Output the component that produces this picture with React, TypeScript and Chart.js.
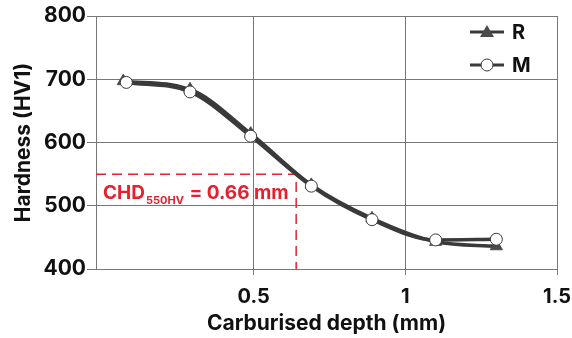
import React, { useEffect, useRef } from "react";
import { Chart, registerables } from "chart.js";

Chart.register(...registerables);

const depthR = [0.07, 0.29, 0.49, 0.69, 0.89, 1.1, 1.3];
const hardR = [697, 684, 614, 533, 480, 443, 436];
const depthM = [0.08, 0.29, 0.49, 0.69, 0.89, 1.1, 1.3];
const hardM = [695, 680, 610, 531, 478, 446, 447];
const chdDepth = 0.64;
const chdHard = 550;
const xTicks = [0.5, 1, 1.5];
const yTicks = [400, 500, 600, 700, 800];

const FONT = "Inter, 'Noto Sans', Arial, sans-serif";
const LINE = "#3a3a3a";
const RED = "#e8202e";

export default function App() {
  const ref = useRef<HTMLCanvasElement | null>(null);
  useEffect(() => {
    document.body.style.margin = "0";
    const ctx = ref.current!.getContext("2d")!;
    const overlay = {
      id: "overlay",
      afterDatasetsDraw(chart: any) {
        const c = chart.ctx;
        const y = chart.scales.y;
        c.save();
        c.fillStyle = RED;
        c.textBaseline = "alphabetic";
        const bx = chart.chartArea.left + 7;
        const by = y.getPixelForValue(chdHard) + 25;
        c.font = `bold 19px ${FONT}`;
        c.fillText("CHD", bx, by);
        const w = c.measureText("CHD").width;
        c.font = `bold 11px ${FONT}`;
        c.fillText("550HV", bx + w + 1, by + 5);
        const w2 = c.measureText("550HV").width;
        c.font = `bold 19px ${FONT}`;
        c.fillText(" = 0.66 mm", bx + w + w2 + 2, by);
        const items = [
          { label: "R", y: 32, tri: true },
          { label: "M", y: 65, tri: false },
        ];
        items.forEach((it) => {
          c.strokeStyle = LINE;
          c.lineWidth = 3;
          c.beginPath();
          c.moveTo(470, it.y);
          c.lineTo(504, it.y);
          c.stroke();
          if (it.tri) {
            c.fillStyle = "#4a4a4a";
            c.beginPath();
            c.moveTo(487, it.y - 7);
            c.lineTo(494, it.y + 5);
            c.lineTo(480, it.y + 5);
            c.closePath();
            c.fill();
          } else {
            c.fillStyle = "#fff";
            c.lineWidth = 1;
            c.beginPath();
            c.arc(487, it.y, 6, 0, Math.PI * 2);
            c.fill();
            c.stroke();
          }
          c.fillStyle = "#111";
          c.font = `bold 20px ${FONT}`;
          c.textBaseline = "middle";
          c.fillText(it.label, 512, it.y + 1);
        });
        c.restore();
      },
    };
    const chart = new Chart(ctx, {
      type: "line",
      data: {
        datasets: [
          {
            label: "M",
            data: depthM.map((d, i) => ({ x: d, y: hardM[i] })),
            borderColor: LINE,
            borderWidth: 3.5,
            cubicInterpolationMode: "monotone",
            pointStyle: "circle",
            pointRadius: 6,
            pointBackgroundColor: "#fff",
            pointBorderColor: LINE,
            pointBorderWidth: 1,
            order: 0,
          },
          {
            label: "R",
            data: depthR.map((d, i) => ({ x: d, y: hardR[i] })),
            borderColor: LINE,
            borderWidth: 3.5,
            cubicInterpolationMode: "monotone",
            pointStyle: "triangle",
            pointRadius: 7,
            pointBackgroundColor: "#4a4a4a",
            pointBorderColor: "#4a4a4a",
            pointBorderWidth: 1,
            order: 1,
          },
          {
            label: "CHD",
            data: [
              { x: -0.02, y: chdHard },
              { x: chdDepth, y: chdHard },
              { x: chdDepth, y: 400 },
            ],
            borderColor: RED,
            borderWidth: 1.5,
            borderDash: [10, 6],
            pointRadius: 0,
            tension: 0,
            order: 2,
          },
        ],
      },
      options: {
        animation: false,
        responsive: false,
        layout: { padding: { left: 0, top: 16, right: 15, bottom: 0 } },
        plugins: { legend: { display: false }, tooltip: { enabled: false } },
        scales: {
          x: {
            type: "linear",
            min: -0.02,
            max: 1.5,
            afterBuildTicks: (s: any) => {
              s.ticks = xTicks.map((v) => ({ value: v }));
            },
            afterFit: (s: any) => {
              s.height = 338 - 269;
              s.paddingLeft = 0;
              s.paddingRight = 0;
            },
            grid: { color: "#777", lineWidth: 1, drawTicks: true, tickLength: 6, tickColor: "#777" },
            border: { color: "#777", width: 1 },
            ticks: {
              color: "#111",
              font: { family: FONT, size: 20, weight: "bold" },
              padding: 10,
              maxRotation: 0,
              callback: (v: any) => String(v),
            },
            title: {
              display: true,
              text: "Carburised depth (mm)",
              color: "#111",
              font: { family: FONT, size: 21, weight: "bold" },
              padding: { top: 0, bottom: 2 },
            },
          },
          y: {
            min: 400,
            max: 800,
            afterBuildTicks: (s: any) => {
              s.ticks = yTicks.map((v) => ({ value: v }));
            },
            afterFit: (s: any) => {
              s.width = 96;
              s.paddingTop = 0;
              s.paddingBottom = 0;
            },
            grid: { color: "#777", lineWidth: 1, drawTicks: true, tickLength: 9, tickColor: "#777" },
            border: { color: "#777", width: 1 },
            ticks: {
              color: "#111",
              font: { family: FONT, size: 21, weight: "bold" },
              padding: 1,
            },
            title: {
              display: true,
              text: "Hardness (HV1)",
              color: "#111",
              font: { family: FONT, size: 21, weight: "bold" },
              padding: { top: 11, bottom: 0 },
            },
          },
        },
      },
      plugins: [overlay],
    } as any);
    return () => chart.destroy();
  }, []);
  return <canvas ref={ref} width={572} height={338} style={{ display: "block" }} />;
}
